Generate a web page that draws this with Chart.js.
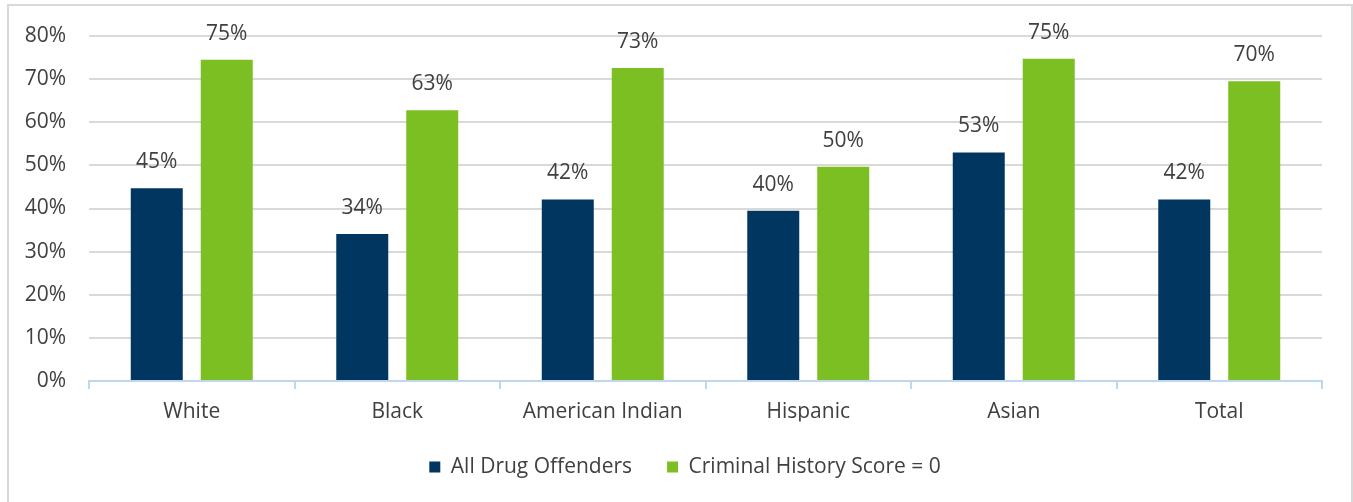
<!DOCTYPE html>
<html>
<head>
<meta charset="utf-8">
<script src="https://cdn.jsdelivr.net/npm/chart.js@4"></script>
<style>
  body { margin: 0; background: #fff; }
  #wrap { position: relative; width: 1353px; height: 502px; overflow: hidden; }
  #frame { position: absolute; left: 7px; top: 4px; width: 1342px; height: 520px; border: 2px solid #d9d9d9; pointer-events: none; }
</style>
</head>
<body>
<div id="wrap">
  <canvas id="Chart1" width="1353" height="502"></canvas>
  <div id="frame"></div>
</div>
<script>
// categories and values
const groups = ['White', 'Black', 'American Indian', 'Hispanic', 'Asian', 'Total'];
const allDrug = [44.7, 34.1, 42.1, 39.5, 53.0, 42.1];
const chsZero = [74.5, 62.8, 72.6, 49.7, 74.7, 69.5];
const yTicks = [0, 10, 20, 30, 40, 50, 60, 70, 80];

const fontFamily = "'Open Sans', sans-serif";
const textColor = '#404040';

// draws the % above each bar
const barLabels = {
  id: 'barLabels',
  afterDatasetsDraw(chart) {
    const ctx = chart.ctx;
    ctx.save();
    ctx.font = '21px ' + fontFamily;
    ctx.fillStyle = textColor;
    ctx.textAlign = 'center';
    ctx.textBaseline = 'middle';
    chart.data.datasets.forEach(function(ds, i) {
      chart.getDatasetMeta(i).data.forEach(function(bar, j) {
        ctx.fillText(Math.round(ds.data[j]) + '%', bar.x, bar.y - 26);
      });
    });
    ctx.restore();
  }
};

// legend sits a bit right of the plot centre in the original
const legendShift = {
  id: 'legendShift',
  afterLayout(chart) {
    chart.legend.left += 24;
    chart.legend.right += 24;
  }
};

const ctx = document.getElementById('Chart1').getContext('2d');
const myChart = new Chart(ctx, {
  type: 'bar',
  data: {
    labels: groups,
    datasets: [
      {
        label: 'All Drug Offenders',
        data: allDrug,
        backgroundColor: '#003660',
        borderWidth: 0
      },
      {
        label: 'Criminal History Score = 0',
        data: chsZero,
        backgroundColor: '#7bbf23',
        borderWidth: 0
      }
    ]
  },
  options: {
    responsive: false,
    animation: false,
    layout: {
      padding: { top: 36, right: 31, left: 0, bottom: 14.5 }
    },
    datasets: {
      bar: {
        categoryPercentage: 0.681,
        barPercentage: 0.743
      }
    },
    plugins: {
      tooltip: { enabled: false },
      legend: {
        position: 'bottom',
        labels: {
          boxWidth: 11,
          boxHeight: 11,
          padding: 35,
          color: textColor,
          font: { family: fontFamily, size: 21 }
        }
      }
    },
    scales: {
      x: {
        grid: {
          offset: true,
          drawOnChartArea: false,
          drawTicks: true,
          tickLength: 8,
          color: '#bdd7ee',
          lineWidth: 2
        },
        border: { display: true, color: '#bdd7ee', width: 2 },
        ticks: {
          padding: 10,
          color: textColor,
          font: { family: fontFamily, size: 21 }
        },
        afterFit: function(scale) { scale.height = 40.5; }
      },
      y: {
        min: 0,
        max: 80,
        afterBuildTicks: function(scale) {
          scale.ticks = yTicks.map(function(v) { return { value: v }; });
        },
        grid: {
          drawTicks: false,
          color: '#d9d9d9',
          lineWidth: 2
        },
        border: { display: false },
        ticks: {
          padding: 23,
          color: textColor,
          font: { family: fontFamily, size: 21 },
          callback: function(value) { return value + '%'; }
        },
        afterFit: function(scale) { scale.width = 89; }
      }
    }
  },
  plugins: [barLabels, legendShift]
});
</script>
</body>
</html>
